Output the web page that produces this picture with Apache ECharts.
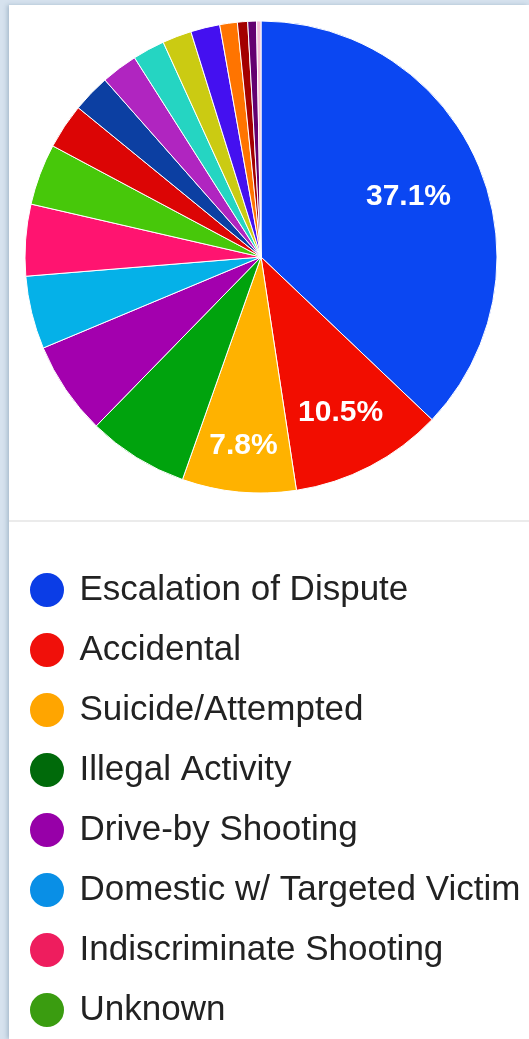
<!DOCTYPE html>
<html>

<head>
    <meta charset="utf-8">
    <script type="text/javascript" src="https://cdn.jsdelivr.net/npm/echarts@6/dist/echarts.min.js"></script>
    <style>
        html,
        body {
            margin: 0;
            padding: 0;
            width: 529px;
            height: 1039px;
            overflow: hidden;
            background-color: #d6e2ee;
        }

        .panel {
            position: absolute;
            left: 9px;
            top: 5px;
            right: 0;
            bottom: 0;
            background-color: #fff;
            box-shadow: -2px 0 4px rgba(90, 120, 150, .35);
            overflow: hidden;
        }

        .panel .sep {
            position: absolute;
            left: 0;
            right: 0;
            top: 515px;
            height: 2px;
            background-color: #ebebeb;
        }

        #container {
            position: absolute;
            left: -9px;
            top: -5px;
            width: 529px;
            height: 1700px;
        }
    </style>
</head>

<body>
    <div class="panel">
        <div class="sep"></div>
        <div id="container"></div>
    </div>
</body>
<script type="text/javascript">
    // categories, clockwise from 12 o'clock
    var categories = [
        'Escalation of Dispute', 'Accidental', 'Suicide/Attempted', 'Illegal Activity',
        'Drive-by Shooting', 'Domestic w/ Targeted Victim', 'Indiscriminate Shooting', 'Unknown',
        'Anger Over Grade/Suspension/Discipline', 'Self-defense', 'Bullying', 'Officer-Involved Shooting',
        'Intentional Property Damage', 'Hostage/Standoff', 'Psychosis', 'Racial', 'Murder/Suicide', 'Robbery'
    ];
    // share of incidents (%)
    var shares = [37.1, 10.5, 7.8, 6.9, 6.4, 5.0, 4.9, 4.2, 3.1, 2.6, 2.5, 2.2, 2.0, 2.0, 1.2, 0.7, 0.6, 0.3];
    var sliceColors = [
        '#0b47f2', '#f20d00', '#ffb200', '#00a30d', '#a300ae', '#05b1e8', '#ff1470', '#47c80a',
        '#dc0505', '#0c3fa2', '#b025c0', '#25d5c2', '#cbcb12', '#4410f0', '#ff7400', '#a30000',
        '#640070', '#f4c0d8'
    ];
    // legend swatches are drawn a bit darker than the slices
    var legendColors = [
        '#0b3de6', '#f0100a', '#ffa500', '#006a0a', '#9700a8', '#098fe6', '#ee1d5e', '#3a9c10',
        '#b82e2e', '#316395', '#994499', '#22aa99', '#aaaa11', '#6633cc', '#e67300', '#8b0707',
        '#651067', '#329262'
    ];
    // where the % text sits, as a fraction of the radius (only the big slices get one)
    var labelRadius = [0.68, 0.73, 0.79];

    var chart = echarts.init(document.getElementById('container'));

    var pieData = categories.map(function (name, i) {
        return {
            name: name,
            value: shares[i],
            itemStyle: { color: sliceColors[i] },
            label: { show: i < labelRadius.length }
        };
    });
    var legendData = categories.map(function (name, i) {
        return { name: name, itemStyle: { color: legendColors[i] } };
    });

    var option = {
        animation: false,
        legend: {
            orient: 'vertical',
            left: 28,
            top: 571,
            padding: 0,
            icon: 'circle',
            itemWidth: 55,
            itemHeight: 36,
            itemGap: 22,
            selectedMode: false,
            data: legendData,
            textStyle: {
                fontFamily: 'Liberation Sans, Arial, sans-serif',
                fontSize: 35,
                color: '#222'
            }
        },
        series: [{
            type: 'pie',
            center: [261, 257],
            radius: [0, 236],
            startAngle: 90,
            clockwise: true,
            percentPrecision: 1,
            emphasis: { disabled: true },
            itemStyle: {
                borderColor: '#fff',
                borderWidth: 1
            },
            label: {
                show: false,
                position: 'inside',
                formatter: '{d}%',
                color: '#fff',
                fontFamily: 'Liberation Sans, Arial, sans-serif',
                fontWeight: 'bold',
                fontSize: 30
            },
            labelLine: { show: false },
            labelLayout: function (p) {
                var lay = chart.getModel().getSeriesByIndex(0).getData().getItemLayout(p.dataIndex);
                var f = labelRadius[p.dataIndex];
                if (!lay || f == null) return {};
                var mid = (lay.startAngle + lay.endAngle) / 2;
                return {
                    x: lay.cx + lay.r * f * Math.cos(mid),
                    y: lay.cy + lay.r * f * Math.sin(mid) + 3,
                    align: 'center',
                    verticalAlign: 'middle'
                };
            },
            data: pieData
        }]
    };
    chart.setOption(option);
</script>

</html>
